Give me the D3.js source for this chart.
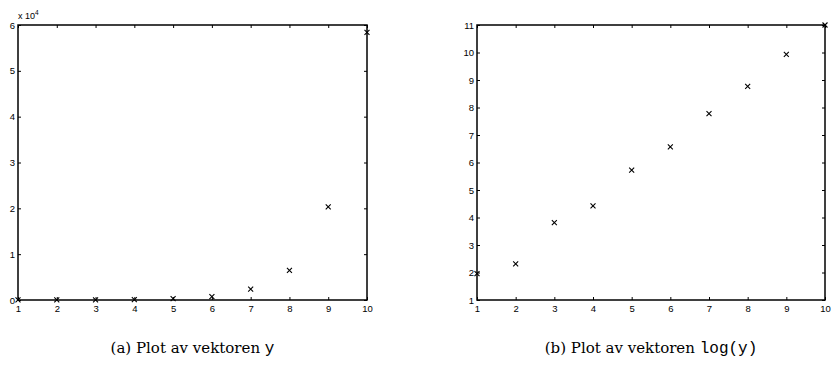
<!DOCTYPE html>
<html><head><meta charset="utf-8">
<script src="https://cdn.jsdelivr.net/npm/d3@7"></script>
<style>body{margin:0;background:#fff}svg{display:block}
.cap{font-family:"DejaVu Serif",serif}
.tt{font-family:"Liberation Mono","Courier New",monospace}
</style>
</head><body>
<svg id="chart" width="832" height="373"></svg>
<script>
const xValues = [1, 2, 3, 4, 5, 6, 7, 8, 9, 10];
const yValues = [7, 10, 45, 83, 305, 713, 2390, 6440, 20300, 58400];
const logYValues = [1.96, 2.31, 3.81, 4.42, 5.72, 6.57, 7.78, 8.77, 9.93, 11.0];
const xTicks = [1, 2, 3, 4, 5, 6, 7, 8, 9, 10];
const yTicksA = [0, 10000, 20000, 30000, 40000, 50000, 60000];
const yTicksB = [1, 2, 3, 4, 5, 6, 7, 8, 9, 10, 11];
const captionA = ["(a) Plot av vektoren ", "y"];
const captionB = ["(b) Plot av vektoren ", "log(y)"];

const svg = d3.select("#chart");
const tickFont = "'Liberation Sans', Arial, sans-serif";

function panel(left, right, top, bottom, ydom, yticks, yfmt, data, caption, exponent) {
  const g = svg.append("g");
  const x = d3.scaleLinear().domain([1, 10]).range([left, right]);
  const y = d3.scaleLinear().domain(ydom).range([bottom, top]);
  const tl = 3;
  g.append("rect").attr("x", left).attr("y", top).attr("width", right - left).attr("height", bottom - top)
    .attr("fill", "none").attr("stroke", "#000").attr("stroke-width", 1.5);
  const ax = g.append("g").attr("transform", `translate(0,${bottom})`)
    .call(d3.axisBottom(x).tickValues(xTicks).tickSize(-tl).tickPadding(5).tickFormat(d3.format("d")));
  const axT = g.append("g").attr("transform", `translate(0,${top})`)
    .call(d3.axisTop(x).tickValues(xTicks).tickSize(-tl).tickFormat(""));
  const ay = g.append("g").attr("transform", `translate(${left},0)`)
    .call(d3.axisLeft(y).tickValues(yticks).tickSize(-tl).tickPadding(3).tickFormat(yfmt));
  const ayR = g.append("g").attr("transform", `translate(${right},0)`)
    .call(d3.axisRight(y).tickValues(yticks).tickSize(-tl).tickFormat(""));
  [ax, axT, ay, ayR].forEach(a => {
    a.select(".domain").remove();
    a.selectAll("line").attr("stroke", "#000").attr("stroke-width", 1);
    a.selectAll("text").attr("font-family", tickFont).attr("font-size", 9.5).attr("fill", "#000");
  });
  ax.selectAll("text").attr("dy", "0.71em");
  const s = 2.5;
  g.append("g").selectAll("path").data(data).join("path")
    .attr("d", d => {
      const px = x(d[0]), py = y(d[1]);
      return `M${px - s},${py - s}L${px + s},${py + s}M${px - s},${py + s}L${px + s},${py - s}`;
    })
    .attr("stroke", "#000").attr("stroke-width", 1.1).attr("fill", "none");
  if (exponent) {
    const t = g.append("text").attr("x", left).attr("y", top - 6)
      .attr("font-family", tickFont).attr("font-size", 9).attr("fill", "#000");
    t.append("tspan").text("x 10");
    t.append("tspan").attr("font-size", 6.5).attr("dy", -4).text("4");
  }
  const c = svg.append("text").attr("class", "cap").attr("x", (left + right) / 2).attr("y", 353)
    .attr("text-anchor", "middle").attr("font-size", 15).attr("fill", "#000");
  c.append("tspan").text(caption[0]);
  c.append("tspan").attr("class", "tt").attr("font-size", 16).text(caption[1]);
}

panel(18, 367, 25, 300, [0, 60000], yTicksA, d => d / 10000,
  xValues.map((v, i) => [v, yValues[i]]), captionA, true);
panel(477, 825, 25, 300, [1, 11], yTicksB, d3.format("d"),
  xValues.map((v, i) => [v, logYValues[i]]), captionB, false);
</script>
</body></html>
